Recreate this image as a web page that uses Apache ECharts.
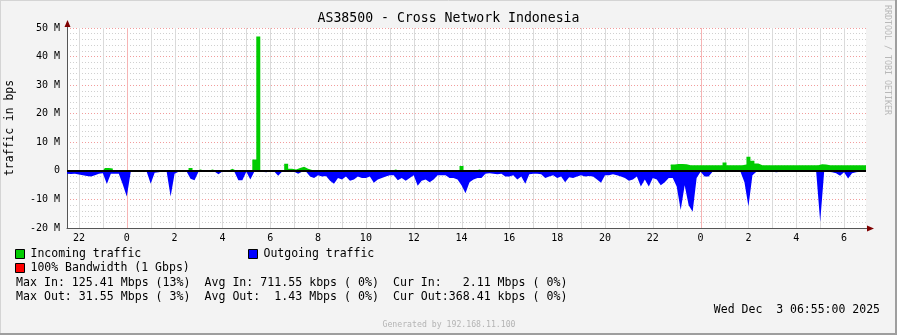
<!DOCTYPE html>
<html><head><meta charset="utf-8">
<script src="https://cdn.jsdelivr.net/npm/echarts@6/dist/echarts.min.js"></script>
<style>html,body{margin:0;padding:0;background:#f3f3f3}#c{width:897px;height:335px}</style>
</head><body><div id="c"></div>
<script>
// time in hours relative to Dec 2 00:00; samples every 10 min from 21:30 Dec 1
const startHour = -2.5;
const endHour = 30 + 55 / 60;
const stepHour = 1 / 6;

// Incoming traffic (Mbps)
const incoming = [
  0,0,0,0,0,0,0,0,0,0,
  1.0,0.8,0,0,0,0,0,0,0,0,
  0,0,0,0,0,0,0,0,0,0,
  0,1.0,0,0.5,0,0,0.5,0,0.3,0,
  0,0.7,0,0,0,0,0,4.0,47.0,0,
  0,0,0,0,0,2.5,0.7,0.5,1.0,1.4,
  0.7,0.3,0,0,0,0,0,0,0,0,
  0,0,0,0.3,0,0,0,0.3,0,0,
  0,0,0.5,0,0,0,0,0.3,0,0,
  0,0,0,0,0,0,0,0,0,1.7,
  0,0,0,0.5,0,0,0,0,0,0,
  0,0,0,0,0,0,0,0,0,0,
  0,0,0,0,0,0.4,0,0,0,0,
  0,0,0,0,0,0,0,0,0,0,
  0,0,0,0,0,0,0,0,0,0,
  0,0,2.2,2.4,2.4,2.3,2.0,2.0,2.0,2.0,
  2.0,2.0,2.0,2.0,2.0,2.9,2.0,2.0,2.0,2.0,
  2.2,4.9,3.5,2.6,2.0,2.0,2.0,2.0,2.0,2.0,
  2.0,2.0,2.0,2.0,2.0,2.0,2.0,2.0,2.0,2.3,
  2.2,2.0,2.0,2.0,2.0,2.0,2.0,2.0,2.0,2.0,
  2.0,2.0
];
// Outgoing traffic (Mbps, drawn negative)
const outgoing = [
  -1.0,-1.1,-1.0,-1.3,-1.5,-1.8,-2.0,-1.5,-1.0,-0.8,
  -4.6,-1.0,-1.0,-1.0,-4.8,-9.0,-0.3,-0.2,-0.2,-0.2,
  -0.3,-4.5,-0.7,-0.5,-0.2,-0.2,-9.0,-1.0,-0.3,-0.2,
  -0.2,-2.8,-3.3,-0.3,-0.2,-0.2,-0.2,-0.2,-1.2,-0.2,
  -0.2,-0.2,-0.3,-3.3,-3.3,-0.3,-3.0,-0.3,-0.2,-0.3,
  -0.5,-0.2,-0.2,-1.7,-0.2,-0.2,-0.2,-0.3,-1.0,-0.3,
  -0.3,-2.0,-2.5,-1.5,-2.0,-1.8,-3.5,-4.5,-2.5,-3.0,
  -2.0,-3.5,-3.0,-2.0,-2.5,-2.5,-2.0,-4.2,-3.0,-2.5,
  -2.0,-1.5,-1.5,-3.3,-2.5,-3.5,-2.5,-1.5,-5.2,-3.5,
  -3.0,-4.0,-3.0,-1.5,-1.5,-1.5,-2.5,-2.5,-3.0,-5.0,
  -7.8,-4.0,-3.0,-2.5,-2.5,-1.0,-0.8,-1.0,-1.2,-1.0,
  -2.0,-2.0,-1.5,-3.0,-2.0,-4.5,-1.2,-1.0,-1.0,-1.2,
  -2.5,-2.0,-1.5,-2.5,-2.0,-4.0,-2.2,-2.5,-2.0,-1.5,
  -2.0,-1.8,-2.0,-3.0,-4.2,-1.5,-1.5,-1.2,-1.5,-2.0,
  -2.5,-3.5,-3.0,-2.0,-5.5,-3.0,-5.5,-2.5,-3.0,-5.0,
  -4.0,-2.5,-2.5,-5.5,-13.7,-5.0,-12.0,-14.3,-2.5,-0.3,
  -2.0,-2.0,-0.3,-0.3,-0.3,-0.3,-0.3,-0.3,-0.3,-0.3,
  -4.0,-12.5,-1.5,-0.3,-0.3,-0.4,-0.3,-0.3,-0.5,-0.3,
  -0.3,-0.4,-0.3,-0.3,-0.3,-0.4,-0.3,-0.3,-0.3,-17.8,
  -0.3,-0.3,-0.5,-0.8,-1.7,-0.5,-2.7,-0.8,-0.5,-0.3,
  -0.3,-0.3
];
const xLabelHours = [-2,0,2,4,6,8,10,12,14,16,18,20,22,24,26,28,30];
const xGridHours = [-2,-1,0,1,2,3,4,5,6,7,8,9,10,11,12,13,14,15,16,17,18,19,20,21,22,23,24,25,26,27,28,29,30];
const yMin = -20, yMax = 50, yStep = 10;

const title = 'AS38500 - Cross Network Indonesia';
const yName = 'traffic in bps';
const credit = 'RRDTOOL / TOBI OETIKER';
const legendIn = 'Incoming traffic';
const legendOut = 'Outgoing traffic';
const legendBw = '100% Bandwidth (1 Gbps)';
const statsIn = 'Max In: 125.41 Mbps (13%)  Avg In: 711.55 kbps ( 0%)  Cur In:   2.11 Mbps ( 0%)';
const statsOut = 'Max Out: 31.55 Mbps ( 3%)  Avg Out:  1.43 Mbps ( 0%)  Cur Out:368.41 kbps ( 0%)';
const dateText = 'Wed Dec  3 06:55:00 2025';
const genText = 'Generated by 192.168.11.100';

const FONT = '"DejaVu Sans Mono", monospace';
const toPairs = arr => arr.map((v, i) => [startHour + i * stepHour, v]);

const G = {left: 67, top: 28, right: 31, bottom: 107};
const W = 897, H = 335;
const plotR = W - G.right, plotB = H - G.bottom;
const GREY = '#c4c4c4', RED = '#f29c9c';

const chart = echarts.init(document.getElementById('c'), null, {renderer: 'canvas'});

function txt(text, x, y, size, opts) {
  opts = opts || {};
  return {type: 'text', x: x, y: y, rotation: opts.rot || 0, z: 100, silent: true,
    style: {text: text, font: size + 'px ' + FONT, fill: opts.fill || '#000',
      align: opts.align || 'left', verticalAlign: 'middle'}};
}
function box(x, y, color) {
  return {type: 'rect', z: 100, silent: true, shape: {x: x + 0.5, y: y + 0.5, width: 9, height: 9},
    style: {fill: color, stroke: '#000', lineWidth: 1}};
}

const graphics = [
  {type: 'rect', z: -1, silent: true, shape: {x: 0, y: 0, width: W, height: H}, style: {fill: '#f3f3f3'}},
  {type: 'line', z: 100, silent: true, shape: {x1: 0, y1: 0.5, x2: W, y2: 0.5}, style: {stroke: '#d4d4d4', lineWidth: 1}},
  {type: 'line', z: 100, silent: true, shape: {x1: 0.5, y1: 0, x2: 0.5, y2: H}, style: {stroke: '#d4d4d4', lineWidth: 1}},
  {type: 'line', z: 100, silent: true, shape: {x1: 0, y1: H - 1, x2: W, y2: H - 1}, style: {stroke: '#9e9e9e', lineWidth: 2}},
  {type: 'line', z: 100, silent: true, shape: {x1: W - 1, y1: 0, x2: W - 1, y2: H}, style: {stroke: '#9e9e9e', lineWidth: 2}},
  {type: 'line', z: 100, silent: true, shape: {x1: G.left + 0.5, y1: G.top, x2: G.left + 0.5, y2: G.top - 5}, style: {stroke: '#555', lineWidth: 1}},
  {type: 'polygon', z: 100, silent: true, shape: {points: [[G.left + 0.5, G.top - 8], [G.left - 2.5, G.top - 1], [G.left + 3.5, G.top - 1]]}, style: {fill: '#7f0000'}},
  {type: 'line', z: 100, silent: true, shape: {x1: plotR, y1: plotB + 0.5, x2: plotR + 3, y2: plotB + 0.5}, style: {stroke: '#555', lineWidth: 1}},
  {type: 'polygon', z: 100, silent: true, shape: {points: [[plotR + 8, plotB + 0.5], [plotR + 1, plotB - 2.5], [plotR + 1, plotB + 3.5]]}, style: {fill: '#7f0000'}},
  txt(title, 448.5, 19, 13.2, {align: 'center'}),
  txt(yName, 10.5, 128, 11.4, {align: 'center', rot: Math.PI / 2}),
  txt(credit, 887.5, 60, 8.3, {align: 'center', rot: -Math.PI / 2, fill: '#b8b8b8'}),
  box(15, 249, '#00cc00'), txt(legendIn, 30.5, 254.5, 11.5),
  box(248, 249, '#0000ff'), txt(legendOut, 263.5, 254.5, 11.5),
  box(15, 263, '#ff0000'), txt(legendBw, 30.5, 268.5, 11.5),
  txt(statsIn, 16, 282.5, 11.6),
  txt(statsOut, 16, 296.5, 11.6),
  txt(dateText, 880, 310.5, 11.5, {align: 'right'}),
  txt(genText, 449, 324.5, 8.2, {align: 'center', fill: '#b4b4b4'})
];

const option = {
  animation: false,
  backgroundColor: '#f3f3f3',
  grid: {left: G.left, top: G.top, right: G.right, bottom: G.bottom, show: true, backgroundColor: '#ffffff', borderWidth: 0},
  xAxis: {
    type: 'value', min: startHour, max: endHour,
    axisLine: {onZero: false, lineStyle: {color: '#555', width: 1}},
    axisTick: {show: false},
    splitLine: {show: false},
    axisLabel: {customValues: xLabelHours, margin: 5, fontFamily: FONT, fontSize: 10, color: '#000',
      formatter: v => String(((Math.round(v) % 24) + 24) % 24)}
  },
  yAxis: {
    type: 'value', min: yMin, max: yMax, interval: yStep,
    axisLine: {show: true, onZero: false, lineStyle: {color: '#555', width: 1}},
    axisTick: {show: false},
    axisLabel: {margin: 7, fontFamily: FONT, fontSize: 10, color: '#000',
      formatter: v => v === 0 ? '0' : v + ' M'},
    splitLine: {show: true, lineStyle: {color: RED, type: [1, 2], width: 1}},
    minorTick: {show: false, splitNumber: 5},
    minorSplitLine: {show: true, lineStyle: {color: '#d0d0d0', type: [1, 2], width: 1}}
  },
  series: [
    {type: 'custom', name: 'hour grid', z: 2, silent: true, clip: false,
      data: xGridHours.map(h => [h, yMin]),
      encode: {x: 0, y: 1},
      renderItem: function (params, api) {
        const h = api.value(0);
        const top = api.coord([h, yMax]);
        const bot = api.coord([h, yMin]);
        const x = Math.round(top[0]) + 0.5;
        const midnight = ((h % 24) + 24) % 24 === 0;
        return {type: 'line', silent: true,
          shape: {x1: x, y1: top[1], x2: x, y2: bot[1]},
          style: {stroke: midnight ? '#f6b4b4' : '#dadada', lineWidth: 1, fill: null}};
      }},
    {type: 'line', name: 'Outgoing traffic', z: 3, symbol: 'none', data: toPairs(outgoing),
      lineStyle: {color: '#0000ff', width: 0}, areaStyle: {color: '#0000ff', opacity: 1}},
    {type: 'line', name: 'Incoming traffic', z: 4, symbol: 'none', step: 'middle', data: toPairs(incoming),
      lineStyle: {color: '#00cc00', width: 0}, areaStyle: {color: '#00cc00', opacity: 1}},
    {type: 'line', name: 'zero', z: 6, silent: true, symbol: 'none', data: [[startHour, 0]], lineStyle: {opacity: 0},
      markLine: {silent: true, symbol: 'none', label: {show: false}, animation: false,
        data: [{yAxis: 0}], lineStyle: {color: '#000', type: 'solid', width: 2}}}
  ],
  graphic: graphics
};
chart.setOption(option);
</script>
</body></html>
